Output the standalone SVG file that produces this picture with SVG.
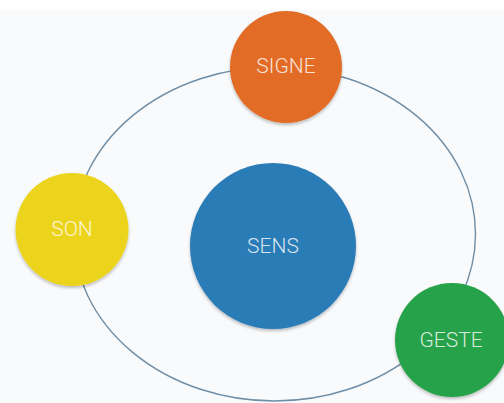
<svg xmlns="http://www.w3.org/2000/svg" width="504" height="403" viewBox="0 0 504 403">
<style>
.lbl{font-family:Roboto,"Liberation Sans",sans-serif;font-weight:300;font-size:21px;fill:#ffffff;fill-opacity:0.82;text-anchor:middle;dominant-baseline:central}
.node{filter:url(#sh)}
</style>
<defs>
<filter id="sh" x="-20%" y="-20%" width="140%" height="140%">
<feDropShadow dx="0" dy="2" stdDeviation="1.5" flood-color="#000" flood-opacity="0.25"/>
</filter>
</defs>
<rect width="504" height="403" fill="#ffffff"/>
<rect y="10" width="504" height="393" fill="#f9fafc"/>
<g id="connectors">
<ellipse cx="274.5" cy="234" rx="201" ry="167" fill="none" stroke="#6f8ea6" stroke-width="1.4"/>
</g>
<g id="sens">
<circle class="node" cx="273" cy="246" r="83" fill="#2c7bb6"/>
<text class="lbl" x="273" y="246">SENS</text>
</g>
<g id="signe">
<circle class="node" cx="286" cy="67" r="56" fill="#e26c26"/>
<text class="lbl" x="286" y="66">SIGNE</text>
</g>
<g id="son">
<circle class="node" cx="72" cy="229.5" r="56.5" fill="#ecd31f"/>
<text class="lbl" x="72" y="229">SON</text>
</g>
<g id="geste">
<circle class="node" cx="452" cy="340" r="57" fill="#28a24b"/>
<text class="lbl" x="451" y="340">GESTE</text>
</g>
</svg>
